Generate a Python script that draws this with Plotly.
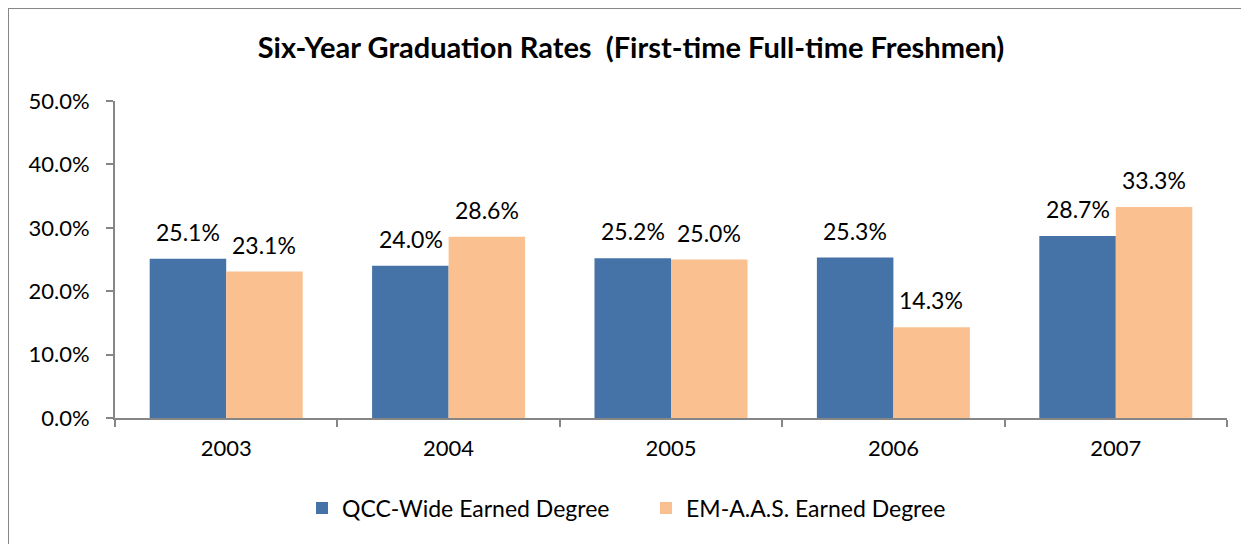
import plotly.graph_objects as go

years = ["2003", "2004", "2005", "2006", "2007"]
qcc_wide = [0.251, 0.240, 0.252, 0.253, 0.287]
em_aas = [0.231, 0.286, 0.250, 0.143, 0.333]
series_names = ["QCC-Wide Earned Degree", "EM-A.A.S. Earned Degree"]
colors = ["#4572A7", "#FAC090"]

# figure sits inside the page with the default 8px body margin
W, H = 1241, 536
L, R, T, B = 107, 22, 93, 126
font_family = "Lato, Calibri, Carlito, sans-serif"
pw = W - L - R
ph = H - T - B

fig = go.Figure()
for name, vals, col in zip(series_names, [qcc_wide, em_aas], colors):
    fig.add_trace(go.Bar(x=years, y=vals, name=name, marker=dict(color=col, line=dict(width=0))))

annotations = []
for shift, vals in zip([-38, 38], [qcc_wide, em_aas]):
    for i, v in enumerate(vals):
        annotations.append(dict(
            x=i, y=v, xref="x", yref="y", text=f"{v*100:.1f}%", showarrow=False,
            xshift=shift, yshift=11, yanchor="bottom", font=dict(size=23, color="#000000", family=font_family)))

fig.update_layout(
    width=W, height=H,
    margin=dict(l=L, r=R, t=T, b=B),
    paper_bgcolor="white", plot_bgcolor="white",
    barmode="group", bargap=0.312, bargroupgap=0,
    font=dict(family=font_family, size=22, color="#000000"),
    title=dict(text="<b>Six-Year Graduation Rates  (First-time Full-time Freshmen)</b>",
               x=(623 - L) / pw, xref="paper", xanchor="center",
               y=(H - 40) / H, yref="container", yanchor="middle",
               font=dict(size=29, family=font_family, color="#000000")),
    xaxis=dict(type="category", range=[-0.5, len(years) - 0.5], autorange=False,
               showline=True, linecolor="#868686", linewidth=2,
               ticks="outside", tickson="boundaries", ticklen=7, tickcolor="#868686", tickwidth=2,
               tickfont=dict(size=22), showgrid=False, tickangle=0, ticklabelstandoff=10),
    yaxis=dict(range=[0, 0.5], autorange=False, dtick=0.1, tickformat=".1%", showline=True, linecolor="#868686",
               linewidth=2, ticks="outside", ticklen=7, tickcolor="#868686", tickwidth=2,
               tickfont=dict(size=22), showgrid=False, zeroline=False, ticklabelstandoff=12),
    legend=dict(orientation="h", x=(294 - L) / pw, xanchor="left", y=(410 - 500) / ph, yanchor="middle",
                font=dict(size=23), itemwidth=30, entrywidth=299, entrywidthmode="pixels",
                traceorder="normal"),
    annotations=annotations,
    shapes=[dict(type="rect", xref="paper", yref="paper",
                 x0=(0 - L) / pw, x1=(W + 50 - L) / pw,
                 y0=(410 - H - 50) / ph, y1=(410 - 0) / ph,
                 line=dict(color="#878787", width=2), fillcolor="rgba(0,0,0,0)", layer="below")],
)

fig.write_html("out.html")
